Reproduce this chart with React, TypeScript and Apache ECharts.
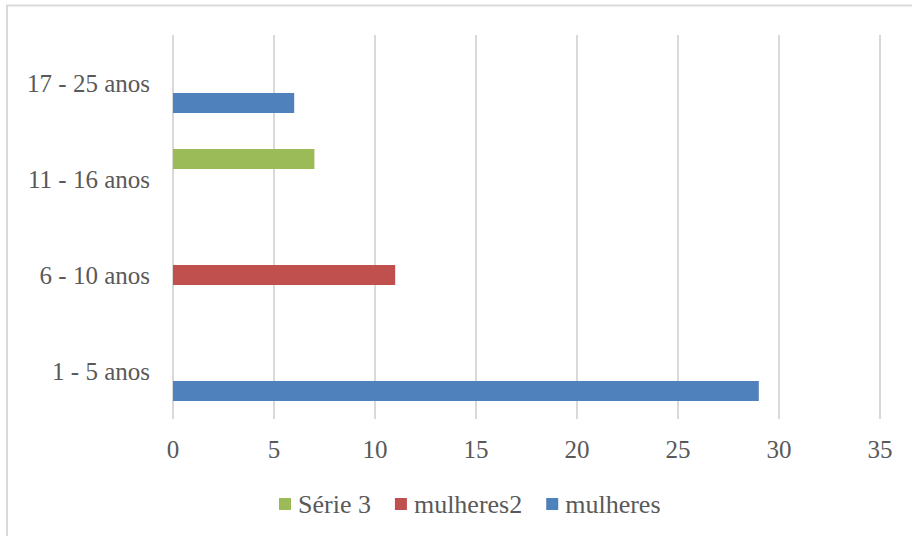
import React, { useEffect, useRef } from "react";
import * as echarts from "echarts";

const categories = ["1 - 5 anos", "6 - 10 anos", "11 - 16 anos", "17 - 25 anos"];
const serie3 = [null, null, 7, null];
const mulheres2 = [null, 11, null, null];
const mulheres = [29, null, null, 6];
const xMin = 0;
const xMax = 35;
const xInterval = 5;

const FONT = "'Liberation Serif', serif";
const TEXT = "#595959";

export default function App() {
  const ref = useRef<HTMLDivElement>(null);
  useEffect(() => {
    if (!ref.current) return;
    const chart = echarts.init(ref.current, undefined, { renderer: "svg" });
    chart.setOption({
      animation: false,
      textStyle: { fontFamily: FONT },
      graphic: [
        {
          type: "rect",
          shape: { x: 7, y: 5.5, width: 1000, height: 1000 },
          style: { fill: "none", stroke: "#D9D9D9", lineWidth: 2 },
          silent: true,
        },
      ],
      grid: { left: 173, right: 32, top: 35, bottom: 117, containLabel: false },
      legend: {
        data: ["Série 3", "mulheres2", "mulheres"],
        bottom: 14,
        left: 274,
        itemWidth: 12,
        itemHeight: 12,
        itemGap: 24,
        icon: "rect",
        textStyle: { fontFamily: FONT, fontSize: 26, color: TEXT, padding: [0, 0, 0, 2] },
      },
      xAxis: {
        type: "value",
        min: xMin,
        max: xMax,
        interval: xInterval,
        axisLine: { show: false },
        axisTick: { show: false },
        splitLine: { lineStyle: { color: "#D9D9D9", width: 2 } },
        axisLabel: { fontFamily: FONT, fontSize: 25, color: TEXT, margin: 18 },
      },
      yAxis: {
        type: "category",
        data: categories,
        axisLine: { show: false },
        axisTick: { show: false },
        axisLabel: { fontFamily: FONT, fontSize: 25, color: TEXT, margin: 23 },
      },
      series: [
        { name: "Série 3", type: "bar", data: serie3, itemStyle: { color: "#9BBB59" }, barWidth: 20, barGap: "0%", barCategoryGap: "37.5%" },
        { name: "mulheres2", type: "bar", data: mulheres2, itemStyle: { color: "#C0504D" }, barWidth: 20, barGap: "0%" },
        { name: "mulheres", type: "bar", data: mulheres, itemStyle: { color: "#4F81BD" }, barWidth: 20, barGap: "0%" },
      ],
    });
    return () => chart.dispose();
  }, []);
  return (
    <div
      ref={ref}
      style={{ position: "absolute", left: 0, top: 0, width: 912, height: 536 }}
    />
  );
}
